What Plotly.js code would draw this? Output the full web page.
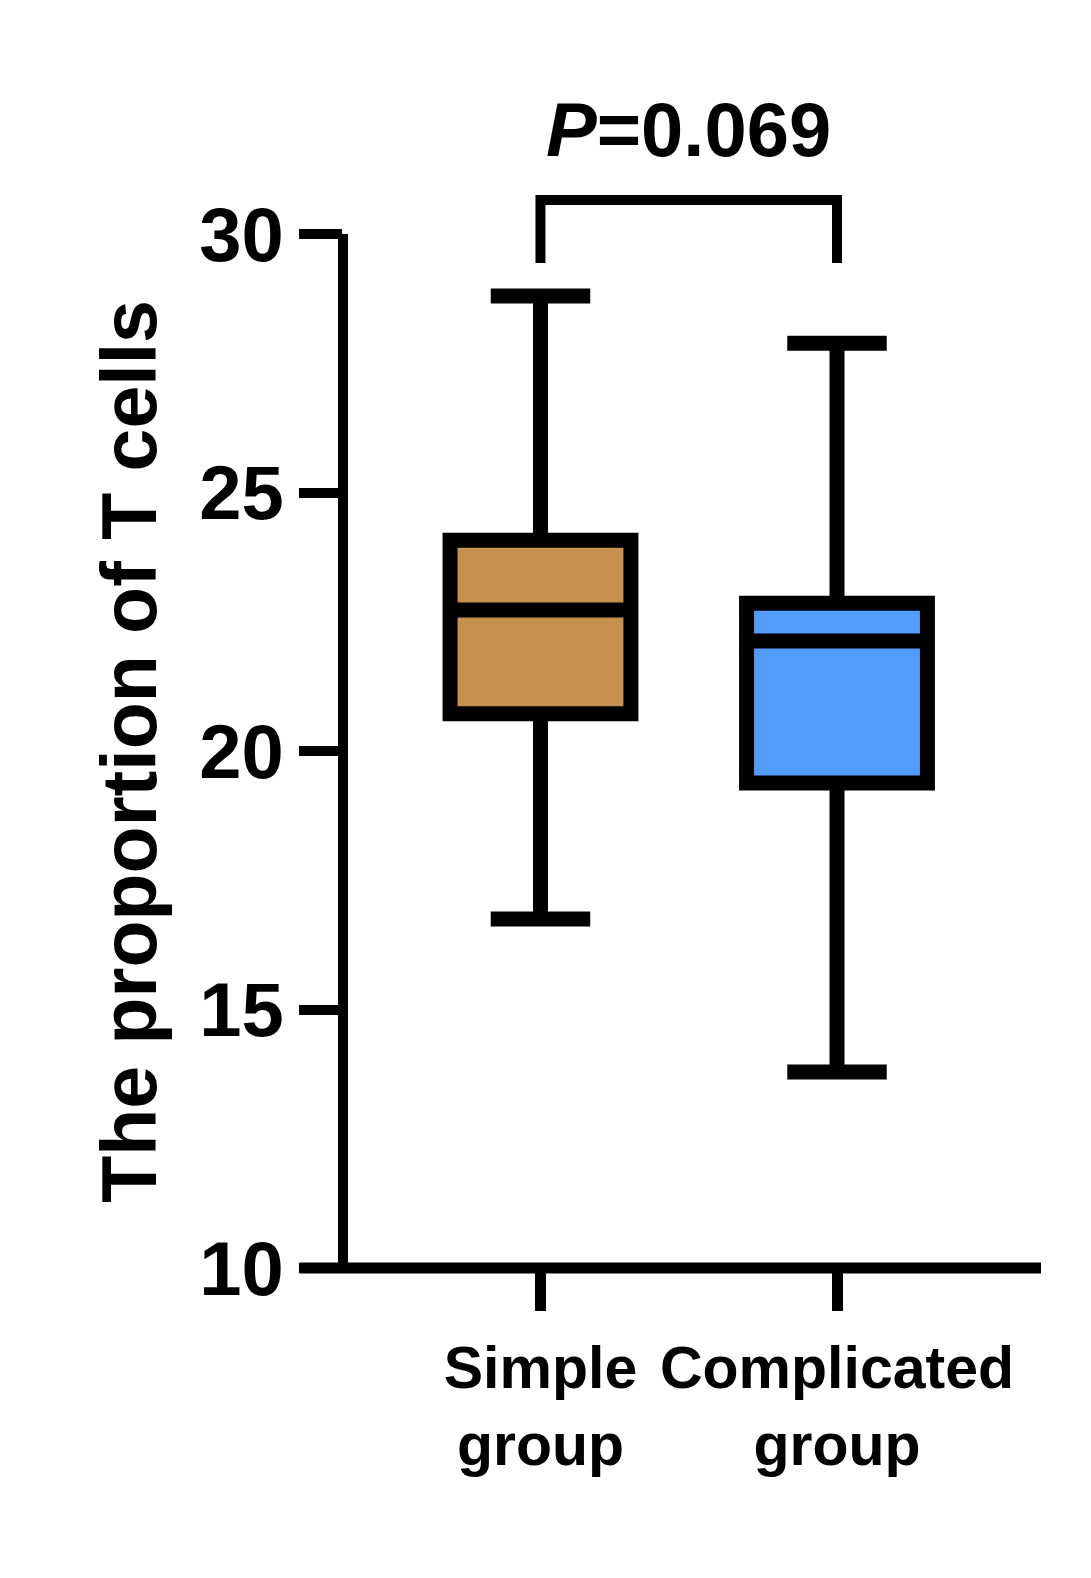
<!DOCTYPE html>
<html>
<head>
<meta charset="utf-8">
<script src="https://cdn.plot.ly/plotly-3.0.1.min.js"></script>
<style>
  html, body { margin: 0; padding: 0; background: #fff; }
  #chart { width: 1091px; height: 1578px; }
</style>
</head>
<body>
<div id="chart"></div>
<script>
// values
const groups = ["Simple<br>group", "Complicated<br>group"];
const lowerWhisker = [16.75, 13.79];
const q1 = [20.72, 19.38];
const median = [22.73, 22.13];
const q3 = [24.08, 22.86];
const upperWhisker = [28.8, 27.89];
const fillColors = ["#c6914e", "#529cfa"];

const yTicks = [10, 15, 20, 25, 30];
const bracketX = [groups[0], groups[0], groups[1], groups[1]];
const bracketY = [29.44, 30.66, 30.66, 29.44];
const pLabel = "<i>P</i>=0.069";
const pLabelY = 32.03;

const font = "Liberation Sans, Arial, sans-serif";

const traces = groups.map((g, i) => ({
  type: "box",
  x: [g],
  q1: [q1[i]],
  median: [median[i]],
  q3: [q3[i]],
  lowerfence: [lowerWhisker[i]],
  upperfence: [upperWhisker[i]],
  fillcolor: fillColors[i],
  line: { color: "#000", width: 15 },
  width: 0.61,
  whiskerwidth: 0.55,
  boxpoints: false,
  hoverinfo: "skip",
  showlegend: false,
}));

// significance bracket
traces.push({
  type: "scatter",
  mode: "lines",
  x: bracketX,
  y: bracketY,
  line: { color: "#000", width: 10 },
  hoverinfo: "skip",
  showlegend: false,
});

const layout = {
  width: 1091,
  height: 1578,
  margin: { l: 343, r: 50, t: 79, b: 310 },
  paper_bgcolor: "#fff",
  plot_bgcolor: "#fff",
  font: { family: font, color: "#000" },
  xaxis: {
    type: "category",
    range: [-0.666, 1.688],
    automargin: false,
    showline: false,
    ticks: "outside",
    ticklen: 42,
    tickwidth: 11,
    tickcolor: "#000",
    ticklabelstandoff: 6,
    showgrid: false,
    zeroline: false,
    tickfont: { family: font, size: 59, weight: "bold", color: "#000" },
  },
  yaxis: {
    range: [10, 33],
    automargin: false,
    tickvals: yTicks,
    ticks: "outside",
    ticklen: 43,
    tickwidth: 10,
    tickcolor: "#000",
    showline: false,
    showgrid: false,
    zeroline: false,
    tickfont: { family: font, size: 76, weight: "bold", color: "#000" },
  },
  shapes: [
    // y axis line, only up to the last tick
    {
      type: "line",
      xref: "paper", x0: 0, x1: 0,
      yref: "y", y0: yTicks[0], y1: yTicks[yTicks.length - 1],
      line: { color: "#000", width: 10 },
    },
    // x axis line, runs under the 10 tick
    {
      type: "line",
      xref: "paper", x0: -0.062, x1: 1,
      yref: "paper", y0: 0, y1: 0,
      line: { color: "#000", width: 11 },
    },
  ],
  annotations: [
    {
      text: pLabel,
      xref: "x", x: 0.5,
      yref: "y", y: pLabelY,
      showarrow: false,
      xanchor: "center",
      yanchor: "middle",
      font: { family: font, size: 76, weight: "bold", color: "#000" },
    },
    {
      text: "The proportion of T cells",
      textangle: -90,
      xref: "paper", x: -0.307,
      yref: "y", y: 20,
      showarrow: false,
      xanchor: "center",
      yanchor: "middle",
      font: { family: font, size: 77, weight: "bold", color: "#000" },
    },
  ],
};

Plotly.newPlot("chart", traces, layout, { staticPlot: true, displayModeBar: false });
</script>
</body>
</html>
